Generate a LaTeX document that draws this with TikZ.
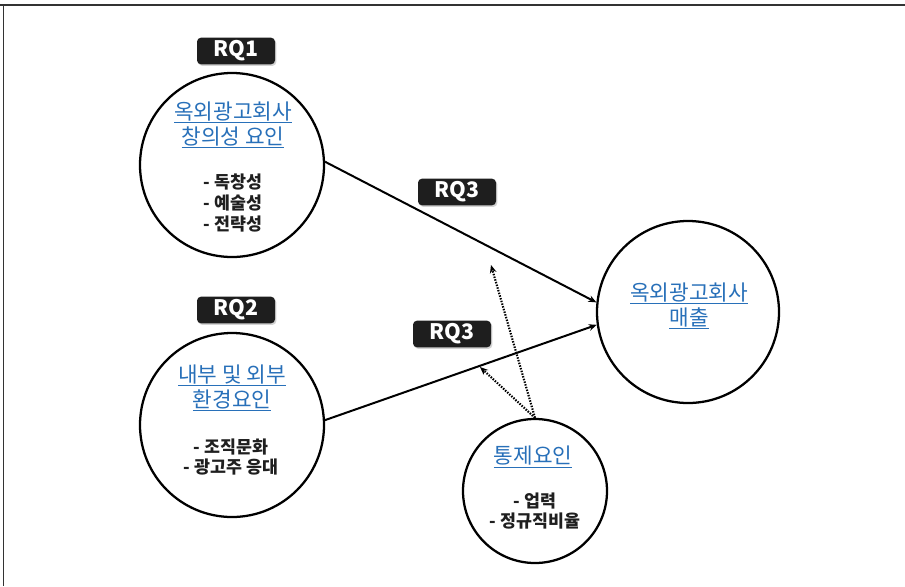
\documentclass[tikz,border=0pt]{standalone}
\usepackage{fontspec}
\newfontfamily\kr{Noto Sans CJK KR}
\usetikzlibrary{shadows,arrows.meta}
\definecolor{titleblue}{RGB}{40,112,185}
\definecolor{boxblack}{RGB}{30,30,30}
\newcommand\myul[1]{\setbox0\hbox{#1}\leavevmode\rlap{\rule[-3.2pt]{\wd0}{1pt}}\box0}
\begin{document}
\begin{tikzpicture}[x=0.75pt,y=-0.75pt,
  circ/.style={circle,draw=black,line width=1.7pt,inner sep=0,fill=white},
  rq/.style={rounded corners=3pt,fill=boxblack,text=white,
    font=\kr\bfseries\fontsize{16}{16}\selectfont,
    minimum width=58.5pt,minimum height=20pt,inner sep=0,
    drop shadow={shadow xshift=1pt,shadow yshift=-1.2pt,opacity=0.35}},
  ttl/.style={text=titleblue,font=\kr\fontsize{16}{18.75}\selectfont,align=center,inner sep=0},
  body/.style={text=black!88,font=\kr\bfseries\fontsize{13}{15.5}\selectfont,align=center,inner sep=0},
  link/.style={line width=1.5pt,-{Stealth[length=6pt,width=5pt]}},
  dlink/.style={line width=1.6pt,dash pattern=on 1.1pt off 1pt,-{Stealth[length=6pt,width=5pt]}}]
\useasboundingbox (0,0) rectangle (905,586);
% frame
\draw[line width=1.5pt,black!80] (0,5) -- (905,5);
\draw[line width=0.6pt,black!80] (3,5) -- (3,586);

% circles
\node[circ,minimum size=138pt] (c1) at (232,165) {};
\node[circ,minimum size=138pt] (c2) at (232,425) {};
\node[circ,minimum size=136.5pt] (c3) at (688,312) {};
\node[circ,minimum size=108pt] (c4) at (535,491) {};

% texts
\node[ttl] (t1) at (233,125) {\myul{옥외광고회사}\\\myul{창의성 요인}};
\node[body] (b1) at (233,203) {- 독창성\\- 예술성\\- 전략성};
\node[ttl] (t2) at (232,388) {\myul{내부 및 외부}\\\myul{환경요인}};
\node[body] (b2) at (231,457) {- 조직문화\\- 광고주 응대};
\node[ttl] (t3) at (689,306) {\myul{옥외광고회사}\\\myul{매출}};
\node[ttl] (t4) at (533,457) {\myul{통제요인}};
\node[body] (b4) at (535,511) {- 업력\\- 정규직비율};

% labels
\node[rq] (rq1) at (236,51) {RQ1};
\node[rq] (rq2) at (236,310) {RQ2};
\node[rq] (rq3a) at (457,192) {RQ3};
\node[rq] (rq3b) at (452,334) {RQ3};

% connectors
\coordinate (d1) at (491,265);
\coordinate (d2) at (480,367);
\draw[link] (c1.2) -- (c3.174);
\draw[link] (c2.3) -- (c3.188);
\draw[dlink] (c4.north) -- (d1);
\draw[dlink] (c4.north) -- (d2);
\end{tikzpicture}
\end{document}
